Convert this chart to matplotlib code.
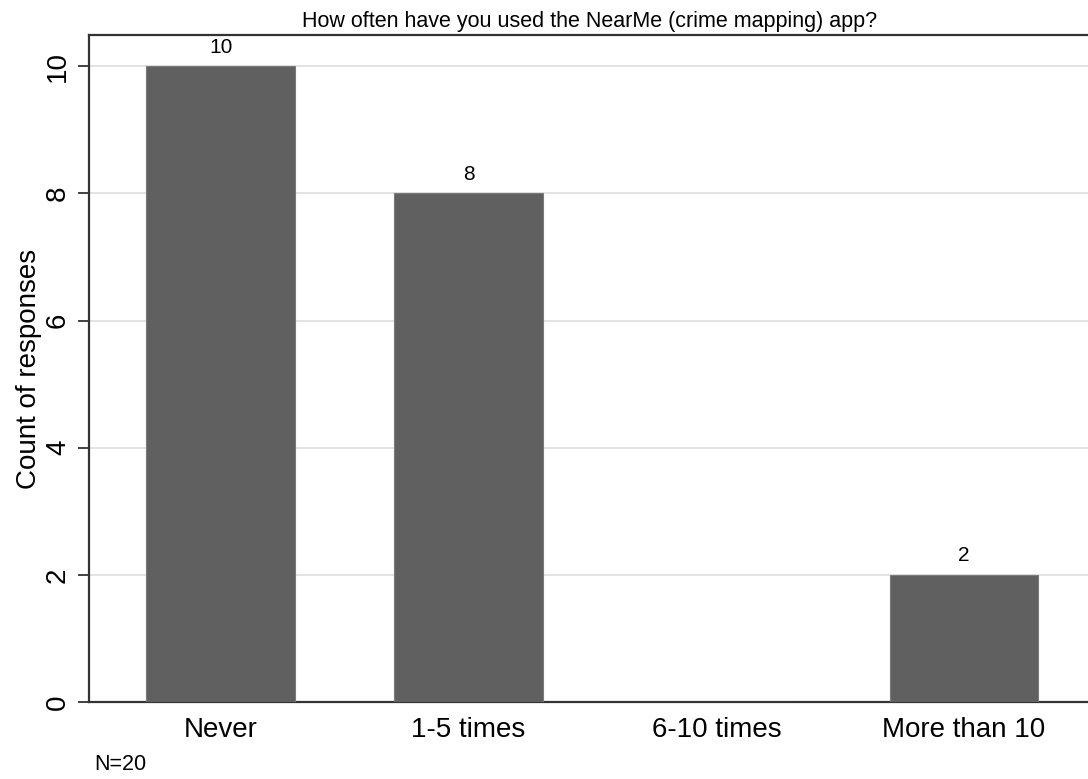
import matplotlib.pyplot as plt

plt.rcParams['font.family'] = ['Liberation Sans', 'DejaVu Sans']

categories = ['Never', '1-5 times', '6-10 times', 'More than 10']
counts = [10, 8, 0, 2]
yticks = [0, 2, 4, 6, 8, 10]
title = 'How often have you used the NearMe (crime mapping) app?'
note = 'N=20'

fig = plt.figure(figsize=(10.88, 7.79), dpi=100)
ax = fig.add_axes([0.0818, 0.0988, 0.9182, 0.8562])

x = range(len(categories))
bars = ax.bar(x, counts, width=0.6, color='#606060', edgecolor='#7a7a7a', linewidth=0.8, zorder=3)

# value labels above each non-empty bar
for xi, c in zip(x, counts):
    if c > 0:
        ax.text(xi, c + 0.15, str(c), ha='center', va='bottom', fontsize=15)

ax.set_xlim(-0.532, 3.5)
ax.set_ylim(0, 10.49)
ax.set_xticks(list(x))
ax.set_xticklabels(categories, fontsize=20)
ax.tick_params(axis='x', length=0, pad=11)
ax.set_yticks(yticks)
ax.set_yticklabels([str(t) for t in yticks], fontsize=20, rotation=90, va='center')
ax.tick_params(axis='y', length=8, width=1.3, color='#333333', pad=5)

ax.grid(axis='y', color='#e0e0e0', linewidth=1.3, zorder=0)
ax.set_axisbelow(True)

for s in ['left', 'top', 'bottom']:
    ax.spines[s].set_linewidth(1.6)
    ax.spines[s].set_color('#333333')
ax.spines['right'].set_visible(False)

ax.set_ylabel('Count of responses', fontsize=20, labelpad=2)
fig.text(0.542, 0.972, title, ha='center', va='center', fontsize=15.5)
fig.text(0.087, 0.011, note, ha='left', va='baseline', fontsize=15.5)

fig.savefig('out.png', dpi=100)
